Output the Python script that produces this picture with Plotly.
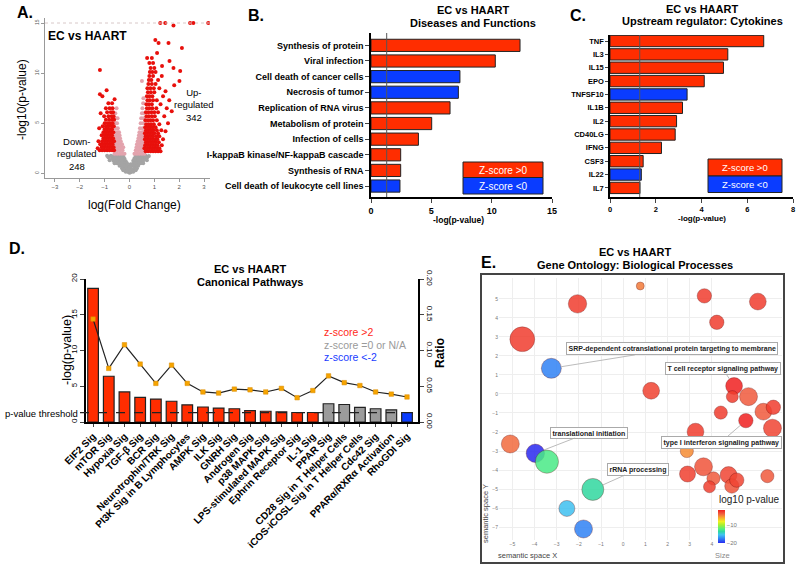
import plotly.graph_objects as go

W, H = 800, 567
FONT = "Liberation Sans, Arial, sans-serif"
RED = "#ff2d00"
BLUE = "#0a3cff"
GREY = "#9b9b9b"

# ---------------- Panel A: volcano (logFC, -log10 p) ----------------
nonsig_pts = [
    (0.0, 0.05), (0.05, 0.1), (-0.05, 0.12), (0.1, 0.25), (-0.1, 0.22), (0.0, 0.3), (0.15, 0.4),
    (-0.15, 0.38), (0.2, 0.5), (-0.2, 0.55), (0.05, 0.45), (-0.05, 0.5),
    (-0.75, 1.75), (-0.65, 1.7), (-0.55, 1.75), (-0.45, 1.72), (-0.35, 1.75), (-0.25, 1.7),
    (-0.7, 1.5), (-0.6, 1.45), (-0.5, 1.5), (-0.4, 1.45), (-0.3, 1.5), (-0.2, 1.45),
    (-0.65, 1.25), (-0.55, 1.2), (-0.45, 1.25), (-0.35, 1.2), (-0.25, 1.25), (-0.15, 1.2),
    (-0.5, 1.0), (-0.4, 0.95), (-0.3, 1.0), (-0.2, 0.95), (-0.1, 1.0),
    (-0.4, 0.75), (-0.3, 0.7), (-0.2, 0.75), (-0.1, 0.7), (0.0, 0.75),
    (-0.3, 0.5), (-0.25, 0.3), (-0.15, 0.15),
    (0.65, 1.75), (0.55, 1.7), (0.45, 1.75), (0.35, 1.72), (0.25, 1.75),
    (0.6, 1.5), (0.5, 1.45), (0.4, 1.5), (0.3, 1.45), (0.2, 1.5),
    (0.55, 1.25), (0.45, 1.2), (0.35, 1.25), (0.25, 1.2), (0.15, 1.25),
    (0.45, 1.0), (0.35, 0.95), (0.25, 1.0), (0.15, 0.95), (0.05, 0.9),
    (0.35, 0.75), (0.25, 0.7), (0.15, 0.75), (0.05, 0.7),
    (0.3, 0.5), (0.25, 0.3), (0.15, 0.15),
    (-0.85, 1.6), (-0.8, 1.3), (0.72, 1.6), (0.7, 1.3), (-0.9, 1.75), (0.78, 1.72), (-0.6, 1.0), (0.55, 1.0),
]
smallfc_pts = [
    (-0.6, 1.95), (-0.5, 1.95), (-0.4, 1.95), (-0.3, 1.95), (-0.2, 1.95),
    (-0.58, 2.3), (-0.48, 2.3), (-0.38, 2.3), (-0.28, 2.3),
    (-0.55, 2.6), (-0.45, 2.6), (-0.35, 2.6), (-0.25, 2.6),
    (-0.57, 2.9), (-0.47, 2.9), (-0.37, 2.9), (-0.3, 2.9),
    (-0.55, 3.2), (-0.45, 3.2), (-0.35, 3.2),
    (-0.58, 3.5), (-0.48, 3.5), (-0.38, 3.5),
    (-0.55, 3.8), (-0.45, 3.8), (-0.4, 3.8),
    (-0.56, 4.1), (-0.48, 4.1), (-0.42, 4.1),
    (-0.55, 4.5), (-0.47, 4.5), (-0.56, 5.0), (-0.5, 5.0), (-0.55, 5.5), (-0.48, 5.5),
    (-0.57, 6.0), (-0.52, 6.5),
    (0.2, 1.95), (0.3, 1.95), (0.4, 1.95), (0.5, 1.95), (0.6, 1.95),
    (0.25, 2.3), (0.35, 2.3), (0.45, 2.3), (0.55, 2.3),
    (0.28, 2.6), (0.38, 2.6), (0.48, 2.6), (0.58, 2.6),
    (0.3, 2.9), (0.4, 2.9), (0.5, 2.9), (0.57, 2.9),
    (0.33, 3.2), (0.43, 3.2), (0.53, 3.2),
    (0.36, 3.5), (0.46, 3.5), (0.56, 3.5),
    (0.38, 3.8), (0.48, 3.8), (0.57, 3.8),
    (0.4, 4.1), (0.5, 4.1), (0.56, 4.1),
    (0.42, 4.5), (0.52, 4.5), (0.45, 5.0), (0.55, 5.0), (0.47, 5.5), (0.56, 5.5),
    (0.5, 6.0), (0.57, 6.0), (0.52, 6.5), (0.55, 7.0), (0.56, 7.5), (0.5, 9.2),
]
down_pts = [
    (-1.2, 2.3), (-1.1, 2.3), (-1.0, 2.3), (-0.9, 2.3), (-0.8, 2.3), (-0.7, 2.3), (-0.62, 2.3),
    (-1.12, 2.6), (-1.02, 2.6), (-0.92, 2.6), (-0.82, 2.6), (-0.72, 2.6), (-0.64, 2.6),
    (-1.18, 2.9), (-1.08, 2.9), (-0.98, 2.9), (-0.88, 2.9), (-0.78, 2.9), (-0.68, 2.9),
    (-1.1, 3.2), (-1.0, 3.2), (-0.9, 3.2), (-0.8, 3.2), (-0.7, 3.2), (-0.62, 3.2),
    (-1.05, 3.5), (-0.95, 3.5), (-0.85, 3.5), (-0.75, 3.5), (-0.66, 3.5),
    (-1.12, 3.8), (-1.0, 3.8), (-0.9, 3.8), (-0.8, 3.8), (-0.7, 3.8),
    (-1.05, 4.1), (-0.95, 4.1), (-0.85, 4.1), (-0.75, 4.1), (-0.65, 4.1),
    (-1.0, 4.4), (-0.9, 4.4), (-0.8, 4.4), (-0.7, 4.4),
    (-1.08, 4.7), (-0.95, 4.7), (-0.85, 4.7), (-0.72, 4.7), (-0.63, 4.7),
    (-1.0, 5.0), (-0.88, 5.0), (-0.78, 5.0), (-0.68, 5.0),
    (-0.95, 5.35), (-0.82, 5.35), (-0.7, 5.35), (-0.62, 5.35),
    (-1.02, 5.7), (-0.85, 5.7), (-0.72, 5.7), (-0.64, 5.7),
    (-0.9, 6.1), (-0.75, 6.1), (-0.66, 6.1),
    (-0.95, 6.5), (-0.8, 6.5), (-0.68, 6.5), (-0.85, 7.0), (-0.7, 7.0),
    (-1.19, 10.3), (-0.92, 8.3), (-1.19, 7.9), (-1.09, 7.7), (-1.16, 6.0), (-0.6, 7.4),
    (-1.25, 3.2), (-1.28, 2.5), (-1.22, 4.5),
]
up_pts = [
    (0.65, 2.2), (0.75, 2.2), (0.85, 2.2), (0.95, 2.2), (1.05, 2.2), (1.15, 2.2), (1.25, 2.2),
    (0.6, 2.5), (0.7, 2.5), (0.8, 2.5), (0.9, 2.5), (1.0, 2.5), (1.1, 2.5), (1.2, 2.5),
    (0.63, 2.8), (0.73, 2.8), (0.83, 2.8), (0.93, 2.8), (1.03, 2.8), (1.13, 2.8), (1.3, 2.8),
    (0.66, 3.1), (0.76, 3.1), (0.86, 3.1), (0.96, 3.1), (1.06, 3.1), (1.18, 3.1),
    (0.62, 3.4), (0.72, 3.4), (0.82, 3.4), (0.92, 3.4), (1.02, 3.4), (1.12, 3.4), (1.35, 3.4),
    (0.65, 3.7), (0.75, 3.7), (0.85, 3.7), (0.95, 3.7), (1.08, 3.7), (1.2, 3.7),
    (0.62, 4.0), (0.72, 4.0), (0.82, 4.0), (0.92, 4.0), (1.0, 4.0), (1.15, 4.0),
    (0.66, 4.3), (0.76, 4.3), (0.86, 4.3), (0.96, 4.3), (1.1, 4.3), (1.28, 4.3),
    (0.63, 4.6), (0.73, 4.6), (0.83, 4.6), (0.93, 4.6), (1.05, 4.6),
    (0.67, 4.9), (0.77, 4.9), (0.87, 4.9), (0.98, 4.9), (1.2, 4.9),
    (0.64, 5.3), (0.74, 5.3), (0.84, 5.3), (0.95, 5.3), (1.1, 5.3),
    (0.68, 5.7), (0.78, 5.7), (0.9, 5.7), (1.02, 5.7), (1.4, 5.7),
    (0.66, 6.1), (0.76, 6.1), (0.88, 6.1), (1.0, 6.1), (1.15, 6.1),
    (0.7, 6.5), (0.8, 6.5), (0.92, 6.5), (1.08, 6.5), (1.5, 6.5),
    (0.68, 6.9), (0.78, 6.9), (0.9, 6.9), (1.25, 6.9),
    (0.72, 7.3), (0.82, 7.3), (0.95, 7.3), (1.1, 7.3),
    (0.7, 7.7), (0.8, 7.7), (0.92, 7.7), (1.35, 7.7),
    (0.74, 8.1), (0.86, 8.1), (1.0, 8.1),
    (0.72, 8.5), (0.84, 8.5), (0.98, 8.5), (1.2, 8.5),
    (0.76, 8.9), (0.9, 8.9), (1.05, 8.9),
    (0.78, 9.3), (0.88, 9.3), (1.15, 9.3),
    (0.8, 9.7), (0.95, 9.7), (1.3, 9.7),
    (0.82, 10.1), (0.92, 10.1), (1.05, 10.1),
    (0.85, 10.5), (1.0, 10.5), (0.8, 11.0), (0.95, 11.0), (0.71, 11.5), (0.9, 11.5),
    (1.04, 13.3), (1.17, 13.0), (1.57, 13.0), (2.11, 12.5), (1.11, 12.0), (1.31, 10.7),
    (1.61, 11.2), (1.77, 10.5), (2.04, 10.2), (2.01, 9.2), (1.24, 15), (1.44, 15),
    (1.77, 14.75), (2.44, 15), (2.57, 15), (3.17, 15), (1.45, 8.2), (1.6, 7.3),
    (1.7, 6.2), (1.55, 5.0), (1.45, 4.2), (1.8, 8.8),
]

# ---------------- Panel B ----------------
b_terms = ["Synthesis of protein", "Viral infection", "Cell death of cancer cells",
           "Necrosis of tumor", "Replication of RNA virus", "Metabolism of protein",
           "Infection of cells", "I-kappaB kinase/NF-kappaB cascade", "Synthesis of RNA",
           "Cell death of leukocyte cell lines"]
b_logp = [12.35, 10.3, 7.37, 7.24, 6.55, 5.03, 3.93, 2.46, 2.46, 2.4]
b_z = ["up", "up", "down", "down", "up", "up", "up", "up", "up", "down"]

# ---------------- Panel C ----------------
c_terms = ["TNF", "IL3", "IL15", "EPO", "TNFSF10", "IL1B", "IL2", "CD40LG", "IFNG", "CSF3", "IL22", "IL7"]
c_logp = [6.72, 5.15, 4.96, 4.12, 3.37, 3.17, 2.91, 2.85, 2.25, 1.45, 1.37, 1.31]
c_z = ["up", "up", "up", "up", "down", "up", "up", "up", "up", "up", "down", "up"]
c_xticks = [0, 2, 4, 6, 8]

# ---------------- Panel D ----------------
d_paths = ["EIF2 Sig", "mTOR Sig", "Hypoxia Sig", "TGF-β Sig", "BCR Sig", "Neurotrophin/TRK Sig",
           "PI3K Sig in B Lymphocytes", "AMPK Sig", "ILK Sig", "GNRH Sig", "Androgen Sig",
           "p38 MAPK Sig", "LPS-stimulated MAPK Sig", "Ephrin Receptor Sig", "IL-1 Sig",
           "PPAR Sig", "CD28 Sig in T Helper Cells", "iCOS-iCOSL Sig in T Helper Cells",
           "Cdc42 Sig", "PPARα/RXRα Activation", "RhoGDI Sig"]
d_logp = [18.7, 6.4, 4.2, 3.45, 3.2, 2.9, 2.4, 2.1, 1.95, 1.85, 1.6, 1.5, 1.42, 1.33, 1.33,
          2.55, 2.45, 2.05, 1.85, 1.7, 1.33]
d_ratio = [0.144, 0.075, 0.108, 0.081, 0.054, 0.0795, 0.054, 0.042, 0.0405, 0.046, 0.045, 0.042,
           0.047, 0.034, 0.044, 0.0645, 0.055, 0.051, 0.042, 0.039, 0.035]
d_z = ["up"] * 15 + ["na"] * 5 + ["down"]
p_threshold = 1.3

# ---------------- Panel E (REVIGO semantic space) ----------------
go_x = [0.77, -2.06, 3.66, 6.07, 4.22, -4.55, -3.24, 1.26, 5.0, 4.92, 5.65, 4.4, 6.32, 6.77, 6.73,
        5.53, 3.26, 2.87, -5.09, -3.96, -3.44, -1.37, -2.54, -1.79, 3.62, 2.9, 4.07, 3.89, 4.75,
        4.9, 5.12, 6.5]
go_y = [5.68, 4.74, 5.16, 4.86, 3.77, 2.88, 1.35, 0.17, 0.42, -0.14, -0.14, -0.98, -0.93, -0.7,
        -1.8, -1.4, -1.98, -3.0, -2.63, -3.12, -3.56, -5.02, -6.02, -7.1, -3.83, -4.21, -4.44,
        -4.88, -4.26, -4.84, -4.53, -4.32]
go_logsize = [1.0, 2.3, 1.8, 2.1, 1.8, 3.1, 2.5, 2.1, 2.1, 1.5, 2.25, 1.65, 2.1, 1.8, 2.25, 1.8,
              2.1, 1.65, 2.25, 2.3, 2.9, 2.75, 2.0, 2.25, 2.25, 2.0, 1.65, 1.5, 2.1, 1.8, 1.8, 1.65]
go_log10p = [-4.5, -2.5, -2.5, -2.5, -2.5, -2.5, -17.5, -2.7, -1.5, -2.5, -3.5, -2.5, -3.5, -2.5,
             -2.8, -1.5, -2.5, -5.0, -4.0, -20.0, -12.5, -13.5, -15.5, -17.5, -3.3, -2.6, -3.5,
             -2.6, -2.8, -3.3, -2.8, -3.5]
go_labels = ["SRP-dependent cotranslational protein targeting to membrane",
             "T cell receptor signaling pathway", "translational initiation",
             "type I interferon signaling pathway", "rRNA processing"]
go_label_idx = [6, 8, 19, 15, 21]
go_label_pos = [(2.21, 2.37), (4.48, 1.34), (-1.55, -2.03), (4.41, -2.53), (0.68, -3.95)]


def px(x):
    return x / W


def py(y):
    return 1 - y / H


def zcol(z):
    return {"up": RED, "down": BLUE, "na": GREY}[z]


fig = go.Figure()

# A traces
for pts, col in [(nonsig_pts, "#a4a4a4"), (smallfc_pts, "#e3a3ad"), (down_pts, "#e8100c"), (up_pts, "#e8100c")]:
    fig.add_trace(go.Scatter(x=[p[0] for p in pts], y=[p[1] for p in pts], mode="markers",
                             marker=dict(color=col, size=4, line=dict(width=0)),
                             xaxis="x", yaxis="y", hoverinfo="skip"))

# B
fig.add_trace(go.Bar(orientation="h", x=b_logp, y=b_terms, width=0.78,
                     marker=dict(color=[zcol(z) for z in b_z], line=dict(color="#222", width=1)),
                     xaxis="x2", yaxis="y2"))
# C
fig.add_trace(go.Bar(orientation="h", x=c_logp, y=c_terms, width=0.85,
                     marker=dict(color=[zcol(z) for z in c_z], line=dict(color="#222", width=1)),
                     xaxis="x3", yaxis="y3"))
# D
fig.add_trace(go.Bar(x=d_paths, y=d_logp, width=0.68,
                     marker=dict(color=[zcol(z) for z in d_z], line=dict(color="#222", width=1.2)),
                     xaxis="x4", yaxis="y4"))
fig.add_trace(go.Scatter(x=d_paths, y=d_ratio, mode="lines+markers",
                         line=dict(color="#222", width=1.2),
                         marker=dict(symbol="square", size=4.5, color="#f6a400",
                                     line=dict(color="#d98a00", width=0.5)),
                         xaxis="x4", yaxis="y5"))
# E
fig.add_trace(go.Scatter(
    x=go_x, y=go_y, mode="markers", xaxis="x6", yaxis="y6",
    marker=dict(size=go_logsize, sizemode="diameter", sizeref=0.125,
                color=go_log10p, cmin=-20, cmax=-1.5,
                colorscale=[[0, "#2a2af0"], [0.13, "#2f7ff5"], [0.25, "#40c4f0"], [0.35, "#30d8a0"],
                            [0.42, "#50f080"], [0.55, "#a8f030"], [0.65, "#f0f020"], [0.78, "#f8a030"],
                            [0.88, "#f06040"], [1, "#f02020"]],
                opacity=0.85, line=dict(color="rgba(90,0,0,0.35)", width=1),
                showscale=True,
                colorbar=dict(x=px(718), xanchor="left", y=py(543), yanchor="bottom",
                              len=33, lenmode="pixels", thickness=7, xpad=0, ypad=0,
                              outlinewidth=0, tickvals=[-10, -20], ticks="",
                              tickfont=dict(family=FONT, size=6, color="#777"))),
))

tick_b = dict(family=FONT, size=9, color="black", weight="bold")
ax_common = dict(showgrid=False, zeroline=False, automargin=False, ticklabeloverflow="allow")

fig.update_layout(
    width=W, height=H, margin=dict(l=0, r=0, t=0, b=0, autoexpand=False), autosize=False,
    paper_bgcolor="white", plot_bgcolor="white", showlegend=False,
    font=dict(family=FONT),
    # A
    xaxis=dict(domain=[px(45), px(210)], range=[-3.4, 3.24], tickvals=[-3, -2, -1, 0, 1, 2, 3],
               showline=True, linecolor="#999", linewidth=1, ticks="outside", ticklen=3,
               tickcolor="#999", tickfont=dict(size=6, color="#555"), anchor="y", **ax_common),
    yaxis=dict(domain=[py(178), py(18)], range=[-0.47, 15.5], tickvals=[0, 5, 10, 15],
               showline=True, linecolor="#999", linewidth=1, ticks="outside", ticklen=3,
               tickcolor="#999", tickangle=-90, tickfont=dict(size=5, color="#555"), anchor="x",
               **ax_common),
    # B
    xaxis2=dict(domain=[px(371), px(552)], range=[0, 15], tickvals=[0, 5, 10, 15],
                showline=True, linecolor="black", linewidth=1.5, ticks="outside", ticklen=4,
                tickfont=tick_b, anchor="y2", **ax_common),
    yaxis2=dict(domain=[py(197), py(33)], range=[9.7, -0.79], type="category",
                tickmode="array", tickvals=b_terms, ticktext=b_terms,
                showline=True, linecolor="black", linewidth=1.5, ticks="outside", ticklen=4,
                tickfont=tick_b, anchor="x2", **ax_common),
    # C
    xaxis3=dict(domain=[px(610), px(793)], range=[0, 8], tickmode="array",
                tickvals=c_xticks, ticktext=[str(v) for v in c_xticks],
                showline=True, linecolor="black", linewidth=1.5, ticks="outside", ticklen=4,
                tickfont=dict(family=FONT, size=7.5, color="black", weight="bold"), anchor="y3",
                **ax_common),
    yaxis3=dict(domain=[py(197), py(35)], range=[11.68, -0.45], type="category",
                tickmode="array", tickvals=c_terms, ticktext=c_terms,
                showline=True, linecolor="black", linewidth=1.5, ticks="outside", ticklen=3,
                tickfont=dict(family=FONT, size=7.5, color="black", weight="bold"), anchor="x3",
                **ax_common),
    # D
    xaxis4=dict(domain=[px(86), px(418)], range=[-0.45, 20.7], type="category",
                tickmode="array", tickvals=d_paths, ticktext=d_paths, tickangle=-45,
                showline=True, linecolor="black", linewidth=1.5, ticks="outside", ticklen=3,
                tickfont=dict(family=FONT, size=10, color="black", weight="bold"), anchor="y4",
                **ax_common),
    yaxis4=dict(domain=[py(422), py(279)], range=[0, 20], tickvals=[0, 5, 10, 15, 20],
                tickangle=-90, showline=True, linecolor="black", linewidth=1.5, ticks="outside",
                ticklen=4, tickfont=dict(family=FONT, size=8, color="black"), anchor="x4",
                **ax_common),
    yaxis5=dict(domain=[py(422), py(279)], range=[0, 0.2], tickvals=[0, 0.05, 0.1, 0.15, 0.2],
                ticktext=["0.00", "0.05", "0.10", "0.15", "0.20"], tickangle=90,
                overlaying="y4", side="right", anchor="x4",
                showline=True, linecolor="black", linewidth=1.5, ticks="outside", ticklen=4,
                tickfont=dict(family=FONT, size=8, color="black"), **ax_common),
    # E
    xaxis6=dict(domain=[px(499), px(782)], range=[-5.6, 7.16], tickvals=[-5, -4, -3, -2, -1, 0, 1, 2, 3, 4],
                showgrid=True, gridcolor="#eeeeee", gridwidth=1, zeroline=False, showline=False,
                automargin=False, tickfont=dict(family=FONT, size=5, color="#777"), anchor="y6"),
    yaxis6=dict(domain=[py(540), py(278)], range=[-7.68, 6.1],
                tickvals=[-7, -6, -5, -4, -3, -2, -1, 0, 1, 2, 3, 4, 5],
                showgrid=True, gridcolor="#eeeeee", gridwidth=1, zeroline=False, showline=False,
                automargin=False, tickfont=dict(family=FONT, size=5, color="#777"), anchor="x6"),
)

shapes = [
    dict(type="line", xref="x", yref="y", x0=-3.4, x1=3.24, y0=15, y1=15,
         line=dict(color="#d8c8c8", width=1, dash="dot")),
    dict(type="line", xref="x2", yref="y2 domain", x0=p_threshold, x1=p_threshold, y0=0, y1=1,
         line=dict(color="#555", width=1)),
    dict(type="line", xref="x3", yref="y3 domain", x0=p_threshold, x1=p_threshold, y0=0, y1=1,
         line=dict(color="#555", width=1)),
    dict(type="line", xref="paper", yref="y4", x0=px(80), x1=px(418), y0=p_threshold, y1=p_threshold,
         line=dict(color="#222", width=1.2, dash="dash")),
    dict(type="rect", xref="paper", yref="paper", x0=px(463), x1=px(543), y0=py(177.5), y1=py(162),
         fillcolor=RED, line=dict(color="#222", width=1)),
    dict(type="rect", xref="paper", yref="paper", x0=px(463), x1=px(543), y0=py(194), y1=py(177.5),
         fillcolor=BLUE, line=dict(color="#222", width=1)),
    dict(type="rect", xref="paper", yref="paper", x0=px(708), x1=px(782), y0=py(176), y1=py(159),
         fillcolor=RED, line=dict(color="#222", width=1)),
    dict(type="rect", xref="paper", yref="paper", x0=px(708), x1=px(782), y0=py(192.5), y1=py(176),
         fillcolor=BLUE, line=dict(color="#222", width=1)),
    dict(type="rect", xref="paper", yref="paper", x0=px(481), x1=px(784), y0=py(563), y1=py(274),
         line=dict(color="#444", width=2)),
]
fig.update_layout(shapes=shapes)


def txt(s, x, y, size, bold=False, color="black", xanchor="center", angle=0):
    fig.add_annotation(text=s, x=px(x), y=py(y), xref="paper", yref="paper", showarrow=False,
                       xanchor=xanchor, yanchor="middle", textangle=angle,
                       font=dict(family=FONT, size=size, color=color,
                                 weight="bold" if bold else "normal"))


# panel letters
txt("A.", 25, 13, 16, True)
txt("B.", 256, 15, 16, True)
txt("C.", 578, 15, 16, True)
txt("D.", 17, 248, 16, True)
txt("E.", 488, 262, 16, True)

# A texts
txt("EC vs HAART", 87, 36, 12, True)
txt("-log10(p-value)", 22, 100, 12, angle=-90)
txt("log(Fold Change)", 134, 205, 12)
txt("Down-<br>regulated<br>248", 77, 154, 9.5)
txt("Up-<br>regulated<br>342", 194, 105, 9.5)

# B texts
txt("EC vs HAART", 473, 10, 11, True)
txt("Diseases and Functions", 473, 23, 11, True)
txt("-log(p-value)", 458, 220, 8.5, True)
txt("Z-score >0", 503, 170, 10, color="white")
txt("Z-score <0", 503, 186, 10, color="white")

# C texts
txt("EC vs HAART", 702, 9, 11, True)
txt("Upstream regulator: Cytokines", 702, 21, 11, True)
txt("-log(p-value)", 702, 218, 8, True)
txt("Z-score >0", 745, 167.5, 9.5, color="white")
txt("Z-score <0", 745, 184, 9.5, color="white")

# D texts
txt("EC vs HAART", 250, 269, 11, True)
txt("Canonical Pathways", 250, 282, 11, True)
txt("-log(p-value)", 67, 350, 12.5, angle=-90)
txt("Ratio", 440, 353, 12, True, angle=-90)
txt("p-value threshold", 41, 413, 9.5)
txt("z-score >2", 322, 332, 10.5, color="#ff2a1a", xanchor="left")
txt("z-score =0 or N/A", 322, 345, 10.5, color="#9a9a9a", xanchor="left")
txt("z-score <-2", 322, 357, 10.5, color="#1a3cff", xanchor="left")

# E texts
txt("EC vs HAART", 635, 252, 11, True)
txt("Gene Ontology: Biological Processes", 635, 265, 11, True)
txt("log10 p-value", 749, 499, 10, color="#222")
txt("semantic space X", 527, 555, 7.5, color="#444")
txt("Size", 722, 555, 7.5, color="#888")
txt("semantic space Y", 485, 513, 7.5, color="#444", angle=-90)

for lab, idx, (lx, ly) in zip(go_labels, go_label_idx, go_label_pos):
    fig.add_annotation(text=lab, x=go_x[idx], y=go_y[idx], xref="x6", yref="y6",
                       ax=lx, ay=ly, axref="x6", ayref="y6", showarrow=True, arrowhead=0,
                       arrowwidth=0.8, arrowcolor="#aaa", standoff=go_logsize[idx] / 0.125 / 2,
                       bgcolor="white", bordercolor="#aaa", borderwidth=1, borderpad=1.5,
                       font=dict(family=FONT, size=7, color="#222", weight="bold"))

fig.write_html("out.html", config={"displayModeBar": False},
               post_script="document.body.style.margin='0px';document.body.style.overflow='hidden';")
